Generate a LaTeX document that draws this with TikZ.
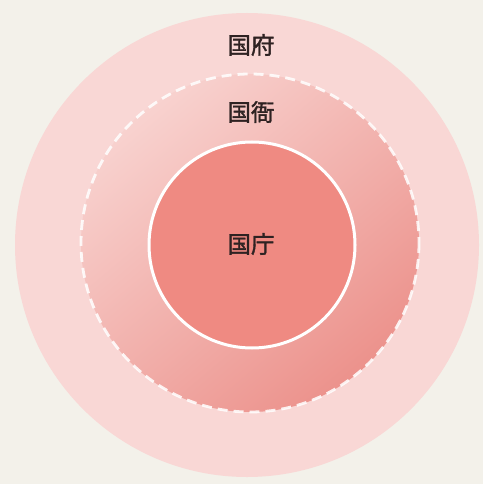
\documentclass[tikz,border=0pt]{standalone}
\usepackage{fontspec}
\newfontfamily\jpfont[FakeBold=1.6]{Noto Sans CJK JP}
\definecolor{bgc}{HTML}{F3F1EA}
\definecolor{outerc}{HTML}{F9D7D5}
\definecolor{midlight}{HTML}{F8D2CF}
\definecolor{middark}{HTML}{EC928C}
\definecolor{innerc}{HTML}{EF8A82}
\definecolor{txtc}{HTML}{2E2222}
\tikzset{
  lbl/.style={font=\jpfont\fontsize{23.5}{24}\selectfont, text=txtc, inner sep=0pt},
}
\begin{document}
\begin{tikzpicture}[x=1pt,y=-1pt]
\fill[bgc] (0,0) rectangle (483,484);
\useasboundingbox (0,0) rectangle (483,484);
\fill[outerc] (247,245) circle (232);
\shade[shading=axis, top color=midlight, bottom color=middark, shading angle=40] (250,243) circle (169);
\draw[white, line width=2.8pt, dash pattern=on 10pt off 6pt, opacity=0.85] (250,243) circle (169);
\fill[innerc] (252,245) circle (103);
\draw[white, line width=3pt] (252,245) circle (103);
\node[lbl] (fu) at (251,45) {国府};
\node[lbl] (ga) at (251,112) {国衙};
\node[lbl] (cho) at (251,244) {国庁};
\end{tikzpicture}
\end{document}
